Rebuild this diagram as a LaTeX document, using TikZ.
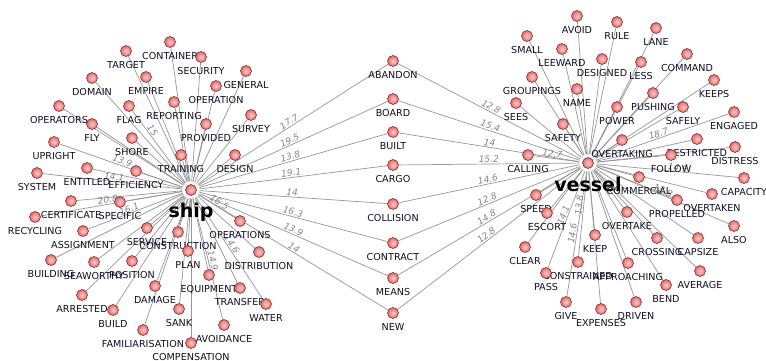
\documentclass[tikz,border=0pt]{standalone}
\usepackage{fontspec}
\setmainfont{DejaVu Sans}
\usetikzlibrary{positioning}
\pgfdeclarelayer{bg}
\pgfsetlayers{bg,main}
\definecolor{dotred}{RGB}{228,105,105}
\definecolor{dotpink}{RGB}{255,205,205}
\definecolor{dotrim}{RGB}{140,45,45}
\definecolor{linkgray}{RGB}{150,150,150}
\definecolor{wtgray}{RGB}{130,130,145}
\definecolor{termink}{RGB}{15,15,35}
\tikzset{
  term/.style={circle,minimum size=11pt,inner sep=0pt,draw=dotrim,line width=.6pt,inner color=dotpink,outer color=dotred},
  termlbl/.style={font=\fontsize{9.6}{9.6}\selectfont,text=termink,inner sep=0pt,label distance=4.5pt,text height=6.9pt,text depth=0pt},
  hub/.style={circle,minimum size=18pt,inner sep=0pt,draw=gray!45,fill=white},
  hublbl/.style={font=\fontsize{19}{19}\selectfont\bfseries,inner sep=0pt},
  link/.style={draw=linkgray,line width=.7pt},
  wt/.style={sloped,above,font=\fontsize{9}{9}\selectfont\itshape,text=wtgray,inner sep=1pt}
}
% terms round each hub: name/x/y in pixels
\def\shipterms{CONTAINER/170/42,TARGET/126/51,SECURITY/201/57,EMPIRE/146/77,DOMAIN/92/78,
  GENERAL/246/71,OPERATION/216/86,REPORTING/174/102,OPERATORS/59/106,FLAG/129/106,FLY/92/124,
  PROVIDED/206/124,SURVEY/251/115,SHORE/132/138,UPRIGHT/54/142,TRAINING/181/155,DESIGN/235/155,
  ENTITLED/87/168,EFFICIENCY/136/171,SYSTEM/37/173,CERTIFICATE/71/201,SPECIFIC/120/202,
  RECYCLING/35/217,ASSIGNMENT/83/231,SERVICE/147/228,CONSTRUCTION/178/232,OPERATIONS/240/221,
  DISTRIBUTION/259/252,PLAN/188/251,BUILDING/51/260,SEAWORTHY/94/262,POSITION/132/261,
  EQUIPMENT/209/275,DAMAGE/155/286,TRANSFER/240/288,ARRESTED/82/295,BUILD/113/310,SANK/179/309,
  WATER/266/304,FAMILIARISATION/143/330,AVOIDANCE/224/325,COMPENSATION/191/343}
\def\vesselterms{AVOID/577/16,RULE/617/22,LANE/656/28,SMALL/527/36,LEEWARD/562/49,DESIGNED/602/59,
  LESS/641/62,COMMAND/687/54,KEEPS/714/80,GROUPINGS/532/77,NAME/577/89,PUSHING/653/93,SEES/516/103,
  POWER/617/107,SAFELY/683/107,ENGAGED/734/112,SAFETY/563/124,OVERTAKING/622/140,RESTRICTED/697/139,
  DISTRESS/735/147,FOLLOW/671/155,CALLING/528/155,COMMERCIAL/639/177,CAPACITY/744/178,
  PROPELLED/677/200,OVERTAKEN/712/194,SPEED/536/195,ESCORT/547/213,OVERTAKE/627/212,ALSO/734/226,
  CLEAR/525/247,KEEP/595/235,CROSSING/657/238,CAPSIZE/698/238,CONSTRAINED/578/262,PASS/546/273,
  APPROACHING/628/263,AVERAGE/700/271,BEND/666/285,GIVE/566/302,EXPENSES/601/309,DRIVEN/636/302}

\begin{document}
\begin{tikzpicture}[x=1pt,y=-1pt]
\useasboundingbox (0,0) rectangle (766,361);
% hubs
\node[hub,label={[hublbl,label distance=3.5pt]below:ship}] (ship) at (191,190) {};
\node[term] (shipdot) at (ship) {};
\node[hub,label={[hublbl,label distance=5pt]below:vessel}] (vessel) at (588,163) {};
\node[term] (vesseldot) at (vessel) {};
% terms
\foreach \tx/\px/\py in \shipterms
  \node[term,label={[termlbl]below:\tx}] (\tx) at (\px,\py) {};
\foreach \tx/\px/\py in \vesselterms
  \node[term,label={[termlbl]below:\tx}] (\tx) at (\px,\py) {};
% shared terms in the middle
\foreach \tx/\py in {ABANDON/61,BOARD/99,BUILT/132,CARGO/165,COLLISION/204,CONTRACT/243,MEANS/278,NEW/313}
  \node[term,label={[termlbl]below:\tx}] (\tx) at (393,\py) {};

\begin{pgfonlayer}{bg}
\foreach \tx/\px/\py in \shipterms
  \draw[link] (ship) -- (\tx);
\foreach \tx/\px/\py in \vesselterms
  \draw[link] (vessel) -- (\tx);
\foreach \tx/\a/\b in {ABANDON/17.7/12.8,BOARD/19.5/15.4,BUILT/13.8/14,CARGO/19.1/15.2,
    COLLISION/14/14.6,CONTRACT/16.3/12.8,MEANS/13.9/14.8,NEW/14/12.8}{
  \draw[link] (ship) -- node[wt,pos=.49]{\a} (\tx);
  \draw[link] (\tx) -- node[wt,pos=.5]{\b} (vessel);
}
% a few spoke weights
\path (ship) -- node[wt,pos=.69]{15} (FLAG);
\path (ship) -- node[wt,pos=.5]{13.9} (UPRIGHT);
\path (ship) -- node[wt,pos=.49]{14.1} (SYSTEM);
\path (ship) -- node[wt,pos=.52]{20.8} (RECYCLING);
\path (ship) -- node[wt,pos=.55]{16.1} (ASSIGNMENT);
\path (ship) -- node[wt,pos=.5]{16.5} (OPERATIONS);
\path (ship) -- node[wt,pos=.52]{14.9} (AVOIDANCE);
\path (ship) -- node[wt,pos=.48]{14.6} (WATER);
\path (vessel) -- node[wt,pos=.48]{18.7} (ENGAGED);
\path (vessel) -- node[wt,pos=.57]{14.4} (CAPACITY);
\path (vessel) -- node[wt,pos=.49]{12.8} (ALSO);
\path (vessel) -- node[wt,pos=.4]{13.8} (CONSTRAINED);
\path (vessel) -- node[wt,pos=.5]{14.6} (GIVE);
\path (vessel) -- node[wt,pos=.47]{14.1} (PASS);
\path (vessel) -- node[wt,pos=.6]{12.7} (CALLING);
\end{pgfonlayer}
\end{tikzpicture}
\end{document}
